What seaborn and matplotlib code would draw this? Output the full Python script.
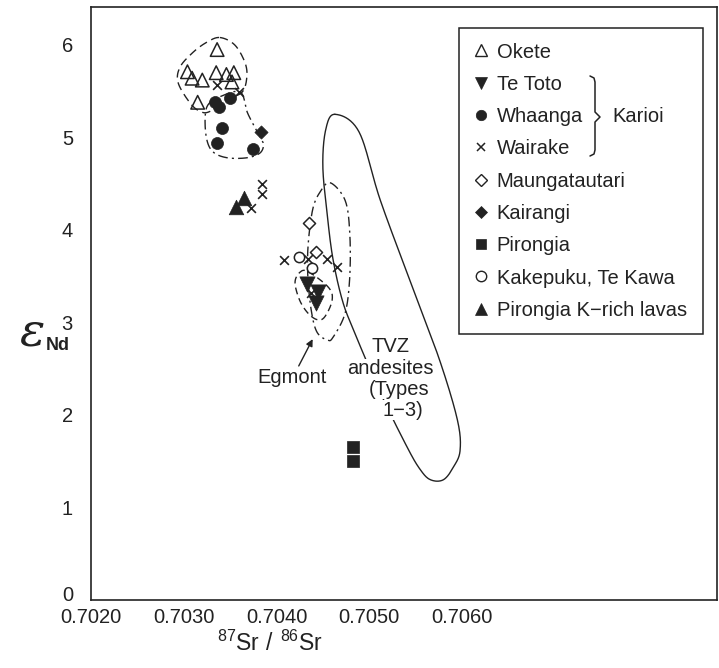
import numpy as np
import pandas as pd
import matplotlib
matplotlib.use("Agg")
import matplotlib.pyplot as plt
import matplotlib.transforms as mtransforms
import seaborn as sns
from matplotlib.lines import Line2D

# ---------------- data ----------------
okete_x = [0.70336, 0.70304, 0.70309, 0.70320, 0.70335, 0.70346, 0.70354, 0.70352, 0.70315]
okete_y = [5.95, 5.71, 5.64, 5.62, 5.70, 5.68, 5.70, 5.60, 5.38]

tetoto_x = [0.70433, 0.70445, 0.70443]
tetoto_y = [3.42, 3.33, 3.21]

whaanga_x = [0.70334, 0.70338, 0.70350, 0.70341, 0.70336, 0.70375]
whaanga_y = [5.38, 5.33, 5.43, 5.10, 4.94, 4.88]

wairake_x = [0.70336, 0.70360, 0.70384, 0.70384, 0.70373, 0.70408, 0.70434, 0.70454, 0.70465, 0.70437]
wairake_y = [5.57, 5.49, 4.50, 4.39, 4.24, 3.68, 3.69, 3.69, 3.60, 3.32]

maunga_x = [0.70435, 0.70443]
maunga_y = [4.08, 3.76]

kairangi_x = [0.70383]
kairangi_y = [5.06]

pirongia_x = [0.70483, 0.70482]
pirongia_y = [1.65, 1.50]

kakepuku_x = [0.70424, 0.70438]
kakepuku_y = [3.71, 3.59]

krich_x = [0.70356, 0.70365]
krich_y = [4.25, 4.35]

# field outlines (control points of closed curves)
tvz_x = [0.70463, 0.70489, 0.70512, 0.70547, 0.70576, 0.70595, 0.70598, 0.70591, 0.70580, 0.70566,
         0.70555, 0.70541, 0.70512, 0.70483, 0.70471, 0.70461, 0.70455, 0.70450, 0.70453]
tvz_y = [5.25, 5.06, 4.32, 3.37, 2.59, 1.95, 1.62, 1.44, 1.30, 1.30,
         1.41, 1.65, 2.24, 2.92, 3.24, 3.68, 4.14, 4.68, 5.08]

egmont_x = [0.70458, 0.70474, 0.70479, 0.70479, 0.70474, 0.70461, 0.70455, 0.70444, 0.70438, 0.70434, 0.70434, 0.70439, 0.70447]
egmont_y = [4.51, 4.32, 3.97, 3.49, 3.10, 2.84, 2.81, 2.89, 3.10, 3.46, 3.82, 4.22, 4.41]

tetoto_f_x = [0.70434, 0.70456, 0.70460, 0.70452, 0.70444, 0.70434, 0.70425, 0.70420, 0.70425]
tetoto_f_y = [3.55, 3.38, 3.24, 3.06, 3.03, 3.10, 3.24, 3.43, 3.54]

okete_f_x = [0.70339, 0.70355, 0.70366, 0.70368, 0.70363, 0.70347, 0.70328, 0.70318, 0.70307, 0.70294, 0.70296, 0.70310, 0.70325]
okete_f_y = [6.08, 6.00, 5.81, 5.65, 5.49, 5.41, 5.28, 5.28, 5.37, 5.59, 5.76, 5.92, 6.03]

whaanga_f_x = [0.70361, 0.70369, 0.70382, 0.70386, 0.70382, 0.70368, 0.70347, 0.70332, 0.70325, 0.70323, 0.70326, 0.70339]
whaanga_f_y = [5.49, 5.26, 5.01, 4.92, 4.83, 4.78, 4.78, 4.84, 4.97, 5.19, 5.35, 5.44]

x_ticks = [0.7020, 0.7030, 0.7040, 0.7050, 0.7060]
x_ticklabels = ["0.7020", "0.7030", "0.7040", "0.7050", "0.7060"]
y_ticks = [0, 1, 2, 3, 4, 5, 6]

# ---------------- style ----------------
sns.set_theme(style="white")
plt.rcParams['font.family'] = ['Liberation Sans', 'DejaVu Sans']
plt.rcParams['mathtext.fontset'] = 'custom'
plt.rcParams['mathtext.rm'] = 'Liberation Sans'

INK = "#222222"
FS = 14.5

fig = plt.figure(figsize=(7.19, 6.68), dpi=100)
ax = fig.add_axes([91/719, 68/668, 626/719, 593/668])

groups = [
    ("Okete", okete_x, okete_y, dict(marker="^", s=95, facecolor="none", edgecolor=INK, linewidth=1.1)),
    ("Te Toto", tetoto_x, tetoto_y, dict(marker="v", s=120, color=INK, edgecolor=INK, linewidth=0.5)),
    ("Whaanga", whaanga_x, whaanga_y, dict(marker="o", s=75, color=INK, edgecolor=INK, linewidth=0.5)),
    ("Wairake", wairake_x, wairake_y, dict(marker="x", s=40, color=INK, linewidth=1.2)),
    ("Maungatautari", maunga_x, maunga_y, dict(marker="D", s=38, facecolor="white", edgecolor=INK, linewidth=1.1)),
    ("Kairangi", kairangi_x, kairangi_y, dict(marker="D", s=45, color=INK, edgecolor=INK, linewidth=0.5)),
    ("Pirongia", pirongia_x, pirongia_y, dict(marker="s", s=70, color=INK, edgecolor=INK, linewidth=0.5)),
    ("Kakepuku, Te Kawa", kakepuku_x, kakepuku_y, dict(marker="o", s=55, facecolor="white", edgecolor=INK, linewidth=1.1)),
    ("Pirongia K\u2212rich lavas", krich_x, krich_y, dict(marker="^", s=110, color=INK, edgecolor=INK, linewidth=0.5)),
]


def closed_spline(xs, ys, n=24):
    P = np.column_stack([xs, ys]).astype(float)
    m = len(P)
    out = []
    t = np.linspace(0, 1, n, endpoint=False)[:, None]
    for i in range(m):
        p0, p1, p2, p3 = P[(i - 1) % m], P[i], P[(i + 1) % m], P[(i + 2) % m]
        seg = 0.5 * ((2 * p1) + (-p0 + p2) * t + (2 * p0 - 5 * p1 + 4 * p2 - p3) * t ** 2
                     + (-p0 + 3 * p1 - 3 * p2 + p3) * t ** 3)
        out.append(seg)
    out = np.vstack(out + [P[:1]])
    return out[:, 0], out[:, 1]


# field outlines
fx, fy = closed_spline(tvz_x, tvz_y)
ax.plot(fx, fy, color=INK, lw=1.0, zorder=2)
fx, fy = closed_spline(egmont_x, egmont_y)
ax.plot(fx, fy, color=INK, lw=1.0, dashes=(7, 3, 1.5, 3), zorder=2)
fx, fy = closed_spline(tetoto_f_x, tetoto_f_y)
ax.plot(fx, fy, color=INK, lw=1.0, dashes=(5, 3), zorder=2)
fx, fy = closed_spline(okete_f_x, okete_f_y)
ax.plot(fx, fy, color=INK, lw=1.0, dashes=(6, 3.5), zorder=2)
fx, fy = closed_spline(whaanga_f_x, whaanga_f_y)
ax.plot(fx, fy, color=INK, lw=1.0, dashes=(7, 3, 1.5, 3), zorder=2)

handles = []
for name, xs, ys, kw in groups:
    df = pd.DataFrame({"x": xs, "y": ys})
    sns.scatterplot(data=df, x="x", y="y", ax=ax, legend=False, zorder=3, **kw)
    mk = kw["marker"]
    if mk == "x":
        h = Line2D([], [], ls="none", marker="x", markersize=6, color=INK, markeredgewidth=1.1)
    else:
        filled = kw.get("facecolor", None) not in ("none", "white")
        ms = {"^": 8, "v": 9, "o": 7.5, "D": 6.5, "s": 7}[mk]
        h = Line2D([], [], ls="none", marker=mk, markersize=ms,
                   markerfacecolor=INK if filled else "white",
                   markeredgecolor=INK, markeredgewidth=1.0 if not filled else 0.5)
    handles.append(h)

ax.set_xlim(0.7020, 0.70875)
ax.set_ylim(0, 6.41)
ax.set_xticks(x_ticks)
ax.set_xticklabels(x_ticklabels)
ax.set_yticks(y_ticks)
ax.tick_params(axis="both", direction="in", length=7, width=1.0, colors=INK, labelsize=FS)
ax.tick_params(axis="x", pad=6)
ax.tick_params(axis="y", pad=13)
for sp in ax.spines.values():
    sp.set_color(INK)
    sp.set_linewidth(1.2)
    sp.set_visible(True)
ax.set_xlabel("")
ax.set_ylabel("")

# lift the "0" y tick label a little so it clears the x tick labels
fig.canvas.draw()
ylabs = ax.get_yticklabels()
ylabs[0].set_transform(ylabs[0].get_transform() +
                       mtransforms.ScaledTranslation(0, 5 / 72, fig.dpi_scale_trans))

# axis labels
fig.text(270/719, 1 - 643/668, r"$^{87}\mathrm{Sr}\ /\ ^{86}\mathrm{Sr}$", ha="center", va="center",
         fontsize=FS + 2, color=INK)
fig.text(32/719, 1 - 333/668, "\u03b5", ha="center", va="center", fontsize=34, color=INK,
         family=["DejaVu Serif"], style="italic")
fig.text(46/719, 1 - 345/668, "Nd", ha="left", va="center", fontsize=13, color=INK, weight="bold")

# annotations
ax.text(0.70417, 2.40, "Egmont", ha="center", va="center", fontsize=FS, color=INK)
ax.annotate("", xy=(0.70439, 2.82), xytext=(0.70424, 2.53),
            arrowprops=dict(arrowstyle="-|>", color=INK, lw=1.0, shrinkA=0, shrinkB=0,
                            mutation_scale=10))
for txt, tx, ty in [("TVZ", 0.70523, 2.74), ("andesites", 0.70523, 2.50),
                    ("(Types", 0.70532, 2.28), ("1\u22123)", 0.70536, 2.05)]:
    ax.text(tx, ty, txt, ha="center", va="center", fontsize=FS, color=INK, zorder=4,
            bbox=dict(facecolor="white", edgecolor="none", pad=0.5))

# legend
labels = [g[0] for g in groups]
leg = ax.legend(handles, labels, loc="upper left",
                bbox_to_anchor=((459 - 91) / 626, (600 - 28) / 593, (703 - 459) / 626, 0.0),
                mode="expand", fontsize=FS, frameon=True, fancybox=False,
                edgecolor=INK, framealpha=1, labelspacing=0.66, handlelength=0.7,
                handletextpad=0.45, borderpad=0.72, borderaxespad=0)
leg.get_frame().set_linewidth(1.1)
for t in leg.get_texts():
    t.set_color(INK)

# bracket for Karioi
tr = ax.transAxes
def px(xp, yp):
    return ((xp - 91) / 626, (600 - yp) / 593)
bx = 590
ytop, ymid, ybot = 76, 117, 156
xs_b = [bx, bx + 4, bx + 5, bx + 5, bx + 10, bx + 5, bx + 5, bx + 4, bx]
ys_b = [ytop, ytop + 2, ytop + 6, ymid - 5, ymid, ymid + 5, ybot - 6, ybot - 2, ybot]
pts = [px(a, b) for a, b in zip(xs_b, ys_b)]
ax.plot([p[0] for p in pts], [p[1] for p in pts], transform=tr, color=INK, lw=1.1, zorder=6,
        solid_joinstyle="round", clip_on=False)
kx, ky = px(612, 117)
ax.text(kx, ky, "Karioi", transform=tr, ha="left", va="center", fontsize=FS, color=INK, zorder=6)

fig.savefig("out.png", dpi=100)
